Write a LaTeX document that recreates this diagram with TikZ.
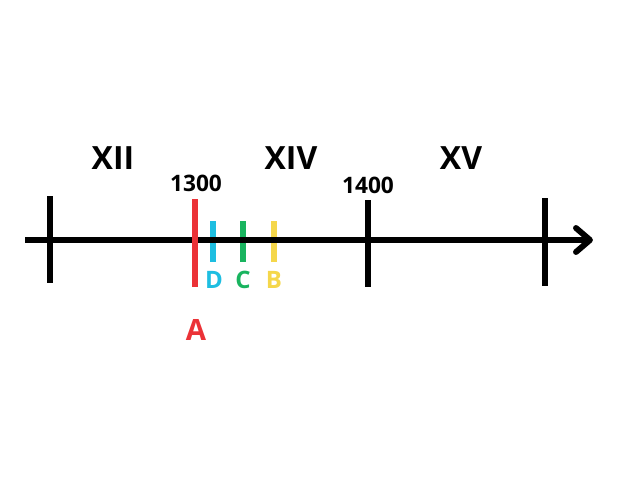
\documentclass[tikz,border=0pt]{standalone}
\usepackage{fontspec}
\setmainfont{Open Sans}
\usepackage{tikz}
\definecolor{redA}{RGB}{235,50,55}
\definecolor{cyanD}{RGB}{30,190,225}
\definecolor{greenC}{RGB}{25,180,95}
\definecolor{yellowB}{RGB}{245,215,75}

\begin{document}
\begin{tikzpicture}[x=0.75pt,y=-0.75pt]
\tikzstyle{every node}+=[inner sep=0pt]
\tikzstyle{century}=[font=\fontsize{24}{24}\selectfont\bfseries]
\tikzstyle{year}=[font=\fontsize{17}{17}\selectfont\bfseries]
\tikzstyle{letter}=[font=\fontsize{18}{18}\selectfont\bfseries]
\tikzstyle{tickline}=[line width=4.2pt]
\useasboundingbox (0,0) rectangle (640,480);
\coordinate (start) at (25,240);
\coordinate (tip) at (590,240);
% short marks lie under the axis
\draw [cyanD, tickline] (213,221) -- (213,262);
\draw [greenC, tickline] (243,221) -- (243,262);
\draw [yellowB, tickline] (274,221) -- (274,262);
\draw [black, line width=3.8pt] (start) -- (tip);
\draw [black, line width=4.4pt, line cap=round, line join=round] (576,228) -- (tip) -- (576,252);
\draw [black, tickline] (50,196) -- (50,283);
\draw [black, tickline] (368,200) -- (368,287);
\draw [black, tickline] (545,198) -- (545,286);
\draw [redA, tickline] (195,199) -- (195,287);
\node [century] (xii) at (113,158) {XII};
\node [century] (xiv) at (291,158) {XIV};
\node [century] (xv) at (461,158) {XV};
\node [year] (y1300) at (196,183) {1300};
\node [year] (y1400) at (368,185) {1400};
\node [letter, text=cyanD] (d) at (214,280) {D};
\node [letter, text=greenC] (c) at (243,280) {C};
\node [letter, text=yellowB] (b) at (274,280) {B};
\node [letter, text=redA, font=\fontsize{22}{22}\selectfont\bfseries] (a) at (196,330) {A};
\end{tikzpicture}
\end{document}
